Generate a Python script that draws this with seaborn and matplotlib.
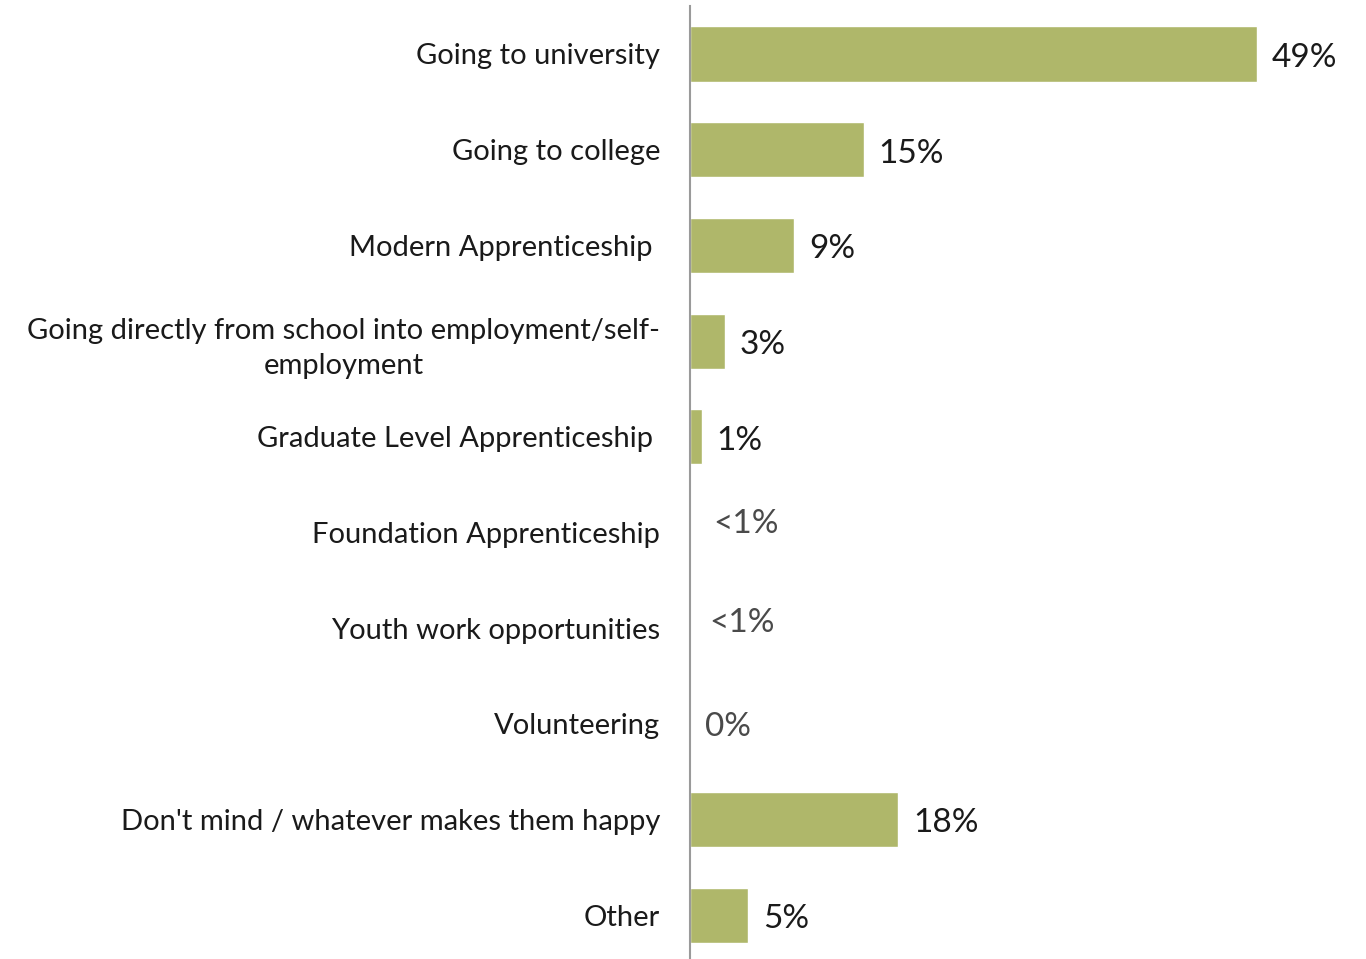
import matplotlib
matplotlib.use("Agg")
import matplotlib.pyplot as plt
import seaborn as sns
import pandas as pd

categories = [
    "Going to university",
    "Going to college",
    "Modern Apprenticeship ",
    "Going directly from school into employment/self-\nemployment",
    "Graduate Level Apprenticeship ",
    "Foundation Apprenticeship",
    "Youth work opportunities",
    "Volunteering",
    "Don't mind / whatever makes them happy",
    "Other",
]
values = [49, 15, 9, 3, 1, 0, 0, 0, 18, 5]
value_labels = ["49%", "15%", "9%", "3%", "1%", "<1%", "<1%", "0%", "18%", "5%"]

# small nudges (px) for the labels of the empty rows
label_dx = [0, 0, 0, 0, 0, 8, 4, 0, 0, 0]
label_dy = [0, 0, 0, 0, 0, -12, -9, -1, 0, 0]

BAR = "#AFB76A"
DARK = "#1A1A1A"
GREY = "#4A4A4A"

sns.set_theme(style="white")
plt.rcParams["font.family"] = ["Lato", "DejaVu Sans"]

df = pd.DataFrame({"category": categories, "value": values})

W, H, DPI = 1366, 959, 100
fig = plt.figure(figsize=(W / DPI, H / DPI), dpi=DPI)
row = 95.67
top = 54 - row / 2
ax = fig.add_axes([690 / W, 1 - (top + 10 * row) / H, 676 / W, 10 * row / H])

sns.barplot(data=df, x="value", y="category", orient="h", color=BAR,
            saturation=1, width=0.575, ax=ax)

ax.set_xlim(0, 676 / 11.57)
ax.set_ylim(9.5, -0.5)
ax.set_xlabel("")
ax.set_ylabel("")
ax.set_xticks([])
for s in ["top", "right", "bottom"]:
    ax.spines[s].set_visible(False)
ax.spines["left"].set_color("#9A9A9A")
ax.spines["left"].set_linewidth(1.5)

ax.tick_params(axis="y", length=0, pad=21.6)
ax.set_yticks(range(len(categories)))
ax.set_yticklabels(categories, fontsize=21, color=DARK,
                   multialignment="center", linespacing=1.45)

for i, (v, lab) in enumerate(zip(values, value_labels)):
    col = DARK if v > 0 else GREY
    ax.annotate(lab, xy=(v, i), xytext=(15 + label_dx[i], -label_dy[i] - 4),
                textcoords="offset pixels", ha="left", va="center",
                fontsize=24, color=col)

fig.savefig("out.png", dpi=DPI)
